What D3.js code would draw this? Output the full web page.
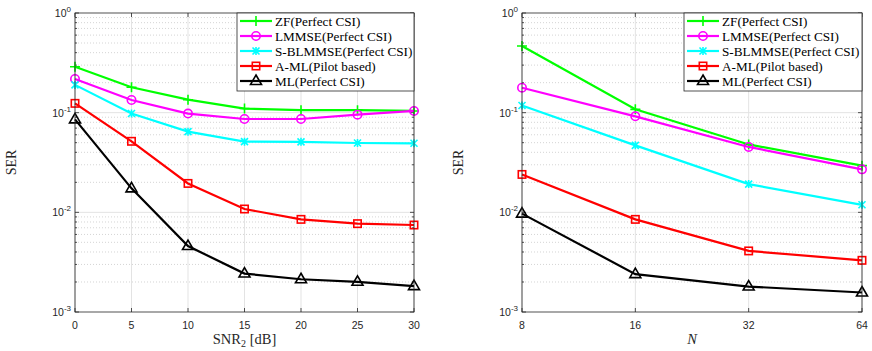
<!DOCTYPE html>
<html>
<head>
<meta charset="utf-8">
<script src="https://cdn.jsdelivr.net/npm/d3@7"></script>
<style>
  body { margin: 0; background: #fff; }
  svg { display: block; }
</style>
</head>
<body>
<svg id="chart" width="872" height="351"></svg>
<script>
// data
const snrDb = [0, 5, 10, 15, 20, 25, 30];
const nAnt = [8, 16, 32, 64];

const labels = ["ZF(Perfect CSI)", "LMMSE(Perfect CSI)", "S-BLMMSE(Perfect CSI)", "A-ML(Pilot based)", "ML(Perfect CSI)"];
const colors = ["#00ff00", "#ff00ff", "#00ffff", "#ff0000", "#000000"];
const markers = ["plus", "circle", "star", "square", "triangle"];

const zfSnr     = [0.289, 0.180, 0.135, 0.110, 0.106, 0.106, 0.104];
const lmmseSnr  = [0.218, 0.134, 0.098, 0.0864, 0.0864, 0.0955, 0.104];
const sblSnr    = [0.190, 0.098, 0.0645, 0.0512, 0.051, 0.0496, 0.0493];
const amlSnr    = [0.124, 0.0516, 0.0195, 0.0108, 0.0085, 0.0077, 0.00746];
const mlSnr     = [0.0857, 0.0174, 0.00459, 0.00243, 0.00213, 0.00201, 0.00182];

const zfN    = [0.467, 0.108, 0.048, 0.0294];
const lmmseN = [0.178, 0.0919, 0.0453, 0.027];
const sblN   = [0.118, 0.047, 0.0192, 0.0119];
const amlN   = [0.024, 0.0085, 0.0041, 0.0033];
const mlN    = [0.0097, 0.0024, 0.0018, 0.00157];

const svg = d3.select("#chart");
const plotTop = 13, plotBottom = 312;
const serif = "Liberation Serif, Times New Roman, serif";
const sans = "Liberation Sans, Arial, sans-serif";

function supLabel(sel, exp) {
  sel.append("tspan").text("10");
  sel.append("tspan").attr("dy", -5).attr("font-size", "8px").text(exp);
}

function drawMarker(g, type, x, y, color) {
  if (type === "plus") {
    g.append("path").attr("d", `M${x-5},${y}H${x+5}M${x},${y-5}V${y+5}`)
      .attr("stroke", color).attr("stroke-width", 1.6).attr("fill", "none");
  } else if (type === "circle") {
    g.append("circle").attr("cx", x).attr("cy", y).attr("r", 4.2)
      .attr("stroke", color).attr("stroke-width", 1.6).attr("fill", "none");
  } else if (type === "star") {
    g.append("path").attr("d", `M${x-3.5},${y-3.5}L${x+3.5},${y+3.5}M${x-3.5},${y+3.5}L${x+3.5},${y-3.5}M${x},${y-4}V${y+4}`)
      .attr("stroke", color).attr("stroke-width", 1.6).attr("fill", "none");
  } else if (type === "square") {
    g.append("rect").attr("x", x-3.7).attr("y", y-3.7).attr("width", 7.4).attr("height", 7.4)
      .attr("stroke", color).attr("stroke-width", 1.6).attr("fill", "none");
  } else if (type === "triangle") {
    g.append("path").attr("d", `M${x},${y-6}L${x+5.5},${y+3.5}L${x-5.5},${y+3.5}Z`)
      .attr("stroke", color).attr("stroke-width", 1.6).attr("fill", "none");
  }
}

function createPanel(opts) {
  const { left, right, xScale, xTicks, xLabelFn, series, legendX, xTitle } = opts;
  const g = svg.append("g");
  const y = d3.scaleLog().domain([1e-3, 1]).range([plotBottom, plotTop]);

  // minor grid
  const minor = [];
  for (let e = -3; e < 0; e++) for (let k = 2; k <= 9; k++) minor.push(k * Math.pow(10, e));
  g.selectAll(".minor").data(minor).enter().append("line")
    .attr("x1", left).attr("x2", right)
    .attr("y1", d => y(d)).attr("y2", d => y(d))
    .attr("stroke", "#b8b8b8").attr("stroke-width", 0.6).attr("stroke-dasharray", "1,2");

  // major grid
  g.selectAll(".major").data([1e-2, 1e-1]).enter().append("line")
    .attr("x1", left).attr("x2", right)
    .attr("y1", d => y(d)).attr("y2", d => y(d))
    .attr("stroke", "#e3e3e3").attr("stroke-width", 1);
  g.selectAll(".vgrid").data(xTicks).enter().append("line")
    .attr("x1", d => xScale(d)).attr("x2", d => xScale(d))
    .attr("y1", plotTop).attr("y2", plotBottom)
    .attr("stroke", "#e3e3e3").attr("stroke-width", 1);

  // ticks (inside)
  const tk = g.append("g").attr("stroke", "#262626").attr("stroke-width", 0.8);
  [1e-3, 1e-2, 1e-1, 1].forEach(v => {
    tk.append("line").attr("x1", left).attr("x2", left + 4).attr("y1", y(v)).attr("y2", y(v));
    tk.append("line").attr("x1", right).attr("x2", right - 4).attr("y1", y(v)).attr("y2", y(v));
  });
  minor.forEach(v => {
    tk.append("line").attr("x1", left).attr("x2", left + 2).attr("y1", y(v)).attr("y2", y(v));
    tk.append("line").attr("x1", right).attr("x2", right - 2).attr("y1", y(v)).attr("y2", y(v));
  });
  xTicks.forEach(v => {
    tk.append("line").attr("x1", xScale(v)).attr("x2", xScale(v)).attr("y1", plotBottom).attr("y2", plotBottom - 4);
    tk.append("line").attr("x1", xScale(v)).attr("x2", xScale(v)).attr("y1", plotTop).attr("y2", plotTop + 4);
  });

  // lines and markers
  const line = d3.line().x(d => xScale(d[0])).y(d => y(d[1]));
  series.forEach((s, i) => {
    const pts = opts.xs.map((xv, j) => [xv, s[j]]);
    g.append("path").datum(pts).attr("d", line)
      .attr("fill", "none").attr("stroke", colors[i]).attr("stroke-width", 2.2);
    pts.forEach(p => drawMarker(g, markers[i], xScale(p[0]), y(p[1]), colors[i]));
  });

  // box
  g.append("rect").attr("x", left).attr("y", plotTop).attr("width", right - left).attr("height", plotBottom - plotTop)
    .attr("fill", "none").attr("stroke", "#262626").attr("stroke-width", 0.8);

  // tick labels
  [[1, "0"], [1e-1, "-1"], [1e-2, "-2"], [1e-3, "-3"]].forEach(([v, ex]) => {
    const t = g.append("text").attr("x", left - 4).attr("y", y(v) + 4)
      .attr("text-anchor", "end").attr("font-family", sans)
      .attr("font-size", "10.5px").attr("fill", "#262626");
    supLabel(t, ex);
  });
  xTicks.forEach(v => {
    g.append("text").attr("x", xScale(v)).attr("y", plotBottom + 17)
      .attr("text-anchor", "middle").attr("font-family", sans)
      .attr("font-size", "10.5px").attr("fill", "#262626").text(xLabelFn(v));
  });

  // axis titles
  g.append("text").attr("transform", `translate(${left - 59},${(plotTop + plotBottom) / 2}) rotate(-90)`)
    .attr("text-anchor", "middle").attr("font-family", serif)
    .attr("font-size", "14px").attr("fill", "#262626").text("SER");
  xTitle(g, (left + right) / 2, plotBottom + 32);

  // legend
  const lg = g.append("g");
  const lw = right - legendX;
  lg.append("rect").attr("x", legendX).attr("y", plotTop).attr("width", lw).attr("height", 78)
    .attr("fill", "#fff").attr("stroke", "#262626").attr("stroke-width", 0.8);
  labels.forEach((lab, i) => {
    const ly = plotTop + 8 + i * 15;
    lg.append("line").attr("x1", legendX + 3).attr("x2", legendX + 35).attr("y1", ly).attr("y2", ly)
      .attr("stroke", colors[i]).attr("stroke-width", 2.2);
    drawMarker(lg, markers[i], legendX + 19, ly, colors[i]);
    lg.append("text").attr("x", legendX + 38).attr("y", ly + 4.5)
      .attr("font-family", serif)
      .attr("font-size", "13.2px").attr("fill", "#000").text(lab);
  });
}

const xLeft = d3.scaleLinear().domain([0, 30]).range([75, 414]);
createPanel({
  left: 75, right: 414, xScale: xLeft, xTicks: snrDb, xs: snrDb,
  xLabelFn: v => String(v), legendX: 237,
  series: [zfSnr, lmmseSnr, sblSnr, amlSnr, mlSnr],
  xTitle: (g, cx, cy) => {
    const t = g.append("text").attr("x", cx).attr("y", cy).attr("text-anchor", "middle")
      .attr("font-family", serif)
      .attr("font-size", "14.5px").attr("fill", "#262626");
    t.append("tspan").text("SNR");
    t.append("tspan").attr("dy", 3).attr("font-size", "10px").text("2");
    t.append("tspan").attr("dy", -3).text(" [dB]");
  }
});

const xRight = d3.scaleLog().base(2).domain([8, 64]).range([522, 862]);
createPanel({
  left: 522, right: 862, xScale: xRight, xTicks: nAnt, xs: nAnt,
  xLabelFn: v => String(v), legendX: 684,
  series: [zfN, lmmseN, sblN, amlN, mlN],
  xTitle: (g, cx, cy) => {
    g.append("text").attr("x", cx).attr("y", cy).attr("text-anchor", "middle")
      .attr("font-family", serif)
      .attr("font-style", "italic")
      .attr("font-size", "14.5px").attr("fill", "#262626").text("N");
  }
});
</script>
</body>
</html>
